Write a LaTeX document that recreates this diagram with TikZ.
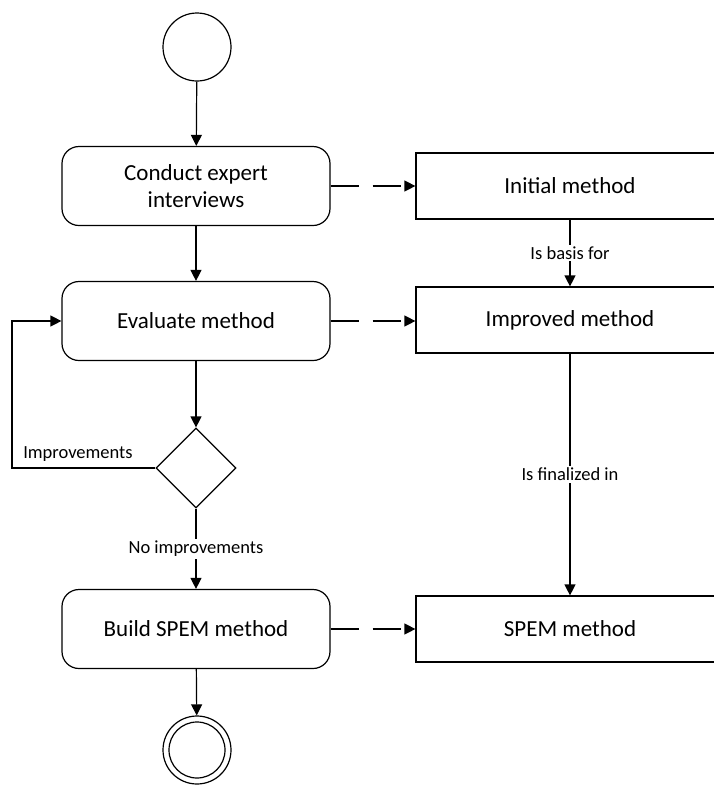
\documentclass[tikz,border=0pt]{standalone}
\usepackage{fontspec}
\setmainfont{Carlito}
\usetikzlibrary{arrows.meta, shapes.geometric, positioning}

\begin{document}
\begin{tikzpicture}[x=1pt, y=-1pt, line width=1.2pt,
  every node/.style={font=\fontsize{23}{27}\selectfont},
  activity/.style={draw, rounded corners=17pt, minimum width=268pt, minimum height=79pt, align=center},
  artefact/.style={draw, rectangle, minimum width=308pt, minimum height=66pt},
  flow/.style={-{Triangle[length=11pt, width=11pt]}},
  produces/.style={flow, dash pattern=on 28pt off 14pt},
  lbl/.style={font=\fontsize{18.5}{22}\selectfont, inner sep=2pt}]

\useasboundingbox (0,0) rectangle (714,788);
\clip (0,0) rectangle (714,788);

% Activity flow (left column)
\node[draw, circle, minimum size=68pt, inner sep=0pt] (start) at (197,47) {};
\node[activity] (conduct) at (196,186) {Conduct expert\\interviews};
\node[activity] (evaluate) at (196,321) {Evaluate method};
\node[draw, diamond, minimum width=80pt, minimum height=80pt, inner sep=0pt] (decide) at (196,468) {};
\node[activity] (build) at (196,629) {Build SPEM method};
\node[draw, circle, minimum size=68pt, inner sep=0pt] (final) at (197,750) {};
\draw (final.center) circle (28);

% Artefacts (right column)
\node[artefact] (initial) at (570,186) {Initial method};
\node[artefact] (improved) at (570,320) {Improved method};
\node[artefact] (spem) at (570,629) {SPEM method};

% Control flow
\draw[flow] (start) -- (conduct);
\draw[flow] (conduct) -- (evaluate);
\draw[flow] (evaluate) -- (decide);
\coordinate (loop) at (12,468);
\draw[flow] (decide.west) -- (loop) node[lbl, above, yshift=4pt, pos=0.54] {Improvements} |- (evaluate.west);
\draw[flow] (decide) -- (build) node[lbl, fill=white, midway] {No improvements};
\draw[flow] (build) -- (final);

% Produced artefacts
\draw[produces] (conduct.east) -- (initial.west);
\draw[produces] (evaluate.east) -- (improved.west |- evaluate.east);
\draw[produces] (build.east) -- (spem.west);
\draw[flow] (initial) -- (improved) node[lbl, fill=white, midway] {Is basis for};
\draw[flow] (improved) -- (spem) node[lbl, fill=white, midway] {Is finalized in};

\end{tikzpicture}
\end{document}
